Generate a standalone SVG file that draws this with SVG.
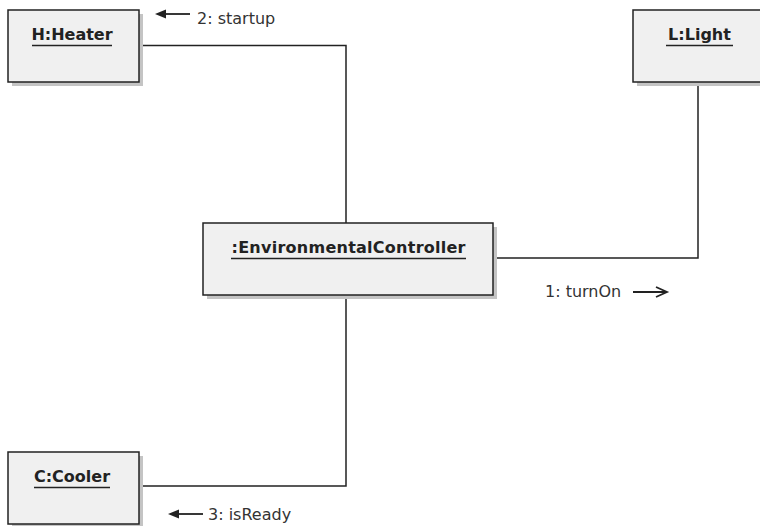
<svg xmlns="http://www.w3.org/2000/svg" width="760" height="526" viewBox="0 0 760 526">
<defs>
<style>
.box{fill:#f0f0f0;stroke:#222;stroke-width:1.5}
.shadow{fill:#c4c4c4}
.name{font-family:"DejaVu Sans",sans-serif;font-size:16px;font-weight:bold;fill:#222;text-anchor:middle}
.ul{stroke:#222;stroke-width:1.5}
.conn{fill:none;stroke:#222;stroke-width:1.5}
.msg{font-family:"DejaVu Sans",sans-serif;font-size:16px;fill:#333}
.marrow{stroke:#222;stroke-width:1.8;fill:none}
</style>
</defs>
<rect width="760" height="526" fill="#ffffff"/>
<g id="connectors">
<path class="conn" d="M139,45.5 H346 V223"/>
<path class="conn" d="M698,82 V258 H493"/>
<path class="conn" d="M346,295 V486 H139"/>
</g>
<g id="heater">
<rect class="shadow" x="12" y="14" width="131" height="72"/>
<rect class="box" x="8" y="10" width="131" height="72"/>
<text class="name" x="72" y="40">H:Heater</text>
<line class="ul" x1="32" y1="45.5" x2="112" y2="45.5"/>
</g>
<g id="light">
<rect class="shadow" x="637" y="14" width="131" height="72"/>
<rect class="box" x="633" y="10" width="131" height="72"/>
<text class="name" x="699.5" y="40">L:Light</text>
<line class="ul" x1="666" y1="45.5" x2="733" y2="45.5"/>
</g>
<g id="controller">
<rect class="shadow" x="207" y="227" width="290" height="72"/>
<rect class="box" x="203" y="223" width="290" height="72"/>
<text class="name" x="348.5" y="253" textLength="234" lengthAdjust="spacing">:EnvironmentalController</text>
<line class="ul" x1="231" y1="258.5" x2="466" y2="258.5"/>
</g>
<g id="cooler">
<rect class="shadow" x="12" y="456" width="131" height="72"/>
<rect class="box" x="8" y="452" width="131" height="72"/>
<text class="name" x="72" y="482">C:Cooler</text>
<line class="ul" x1="34" y1="487.5" x2="110" y2="487.5"/>
</g>
<g id="msg-startup">
<line class="marrow" x1="163" y1="14" x2="190" y2="14"/>
<polygon points="155,14 166,9.5 166,18.5" fill="#222"/>
<text class="msg" x="197" y="24">2: startup</text>
</g>
<g id="msg-turnon">
<text class="msg" x="545" y="297">1: turnOn</text>
<line class="marrow" x1="633" y1="292" x2="666" y2="292"/>
<polyline class="marrow" points="656,287 667,292 656,297"/>
</g>
<g id="msg-isready">
<line class="marrow" x1="176" y1="514" x2="203" y2="514"/>
<polygon points="168,514 179,509.5 179,518.5" fill="#222"/>
<text class="msg" x="208" y="520">3: isReady</text>
</g>
</svg>
